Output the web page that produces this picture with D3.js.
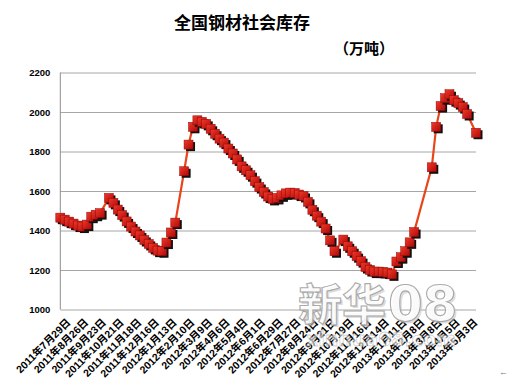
<!DOCTYPE html>
<html><head><meta charset="utf-8">
<script src="https://cdn.jsdelivr.net/npm/d3@7"></script>
<style>body{margin:0;background:#fff}svg{display:block}</style>
</head><body>
<svg id="chart" width="508" height="382"></svg>
<script>
// ---- data ----
const dates = [
"2011-07-29","2011-08-05","2011-08-12","2011-08-19","2011-08-26","2011-09-02","2011-09-09","2011-09-16","2011-09-23","2011-09-30",
"2011-10-07","2011-10-14","2011-10-21","2011-10-28","2011-11-04","2011-11-11","2011-11-18","2011-11-25","2011-12-02","2011-12-09",
"2011-12-16","2011-12-23","2011-12-30","2012-01-06","2012-01-13","2012-01-20","2012-01-27","2012-02-03","2012-02-10","2012-02-17",
"2012-02-24","2012-03-02","2012-03-09","2012-03-16","2012-03-23","2012-03-30","2012-04-06","2012-04-13","2012-04-20","2012-04-27",
"2012-05-04","2012-05-11","2012-05-18","2012-05-25","2012-06-01","2012-06-08","2012-06-15","2012-06-22","2012-06-29","2012-07-06",
"2012-07-13","2012-07-20","2012-07-27","2012-08-03","2012-08-10","2012-08-17","2012-08-24","2012-08-31","2012-09-07","2012-09-14",
"2012-09-21","2012-09-28","2012-10-05","2012-10-12","2012-10-19","2012-10-26","2012-11-02","2012-11-09","2012-11-16","2012-11-23",
"2012-11-30","2012-12-07","2012-12-14","2012-12-21","2012-12-28","2013-01-04","2013-01-11","2013-01-18","2013-01-25","2013-02-01",
"2013-02-08","2013-02-15","2013-02-22","2013-03-01","2013-03-08","2013-03-15","2013-03-22","2013-03-29","2013-04-05","2013-04-12",
"2013-04-19","2013-04-26","2013-05-03","2013-05-10","2013-05-17"
];
const inventory = [
1465,1455,1445,1435,1425,1420,1430,1470,1480,1488,
null,1565,1540,1506,1478,1446,1420,1395,1375,1352,
1332,1312,1298,1295,1339,1390,1440,null,1700,1835,
1925,1958,1950,1940,1915,1890,1865,1845,1815,1790,
1760,1725,1705,1680,1650,1620,1595,1572,1560,1565,
1578,1588,1592,1590,1582,1575,1545,1505,1475,1445,
1410,1350,1295,null,1354,1320,1295,1270,1245,1215,
1200,1192,1192,1190,1187,1178,1243,1265,1295,1340,
1392,null,null,null,1720,1925,2030,2070,2090,2060,
2045,2025,1990,null,1895
];
const yTicks = [1000,1200,1400,1600,1800,2000,2200];
const xTickLabels = [
"2011年7月29日","2011年8月26日","2011年9月23日","2011年10月21日","2011年11月18日","2011年12月16日",
"2012年1月13日","2012年2月10日","2012年3月9日","2012年4月6日","2012年5月4日","2012年6月1日",
"2012年6月29日","2012年7月27日","2012年8月24日","2012年9月21日","2012年10月19日","2012年11月16日",
"2012年12月14日","2013年1月11日","2013年2月8日","2013年3月8日","2013年4月5日","2013年5月3日"
];
const xTickDates = ["2011-07-29","2011-08-26","2011-09-23","2011-10-21","2011-11-18","2011-12-16",
"2012-01-13","2012-02-10","2012-03-09","2012-04-06","2012-05-04","2012-06-01",
"2012-06-29","2012-07-27","2012-08-24","2012-09-21","2012-10-19","2012-11-16",
"2012-12-14","2013-01-11","2013-02-08","2013-03-08","2013-04-05","2013-05-03"];
const title = "全国钢材社会库存";
const unit = "（万吨）";

// ---- drawing ----
const svg = d3.select("#chart");
const parse = d3.timeParse("%Y-%m-%d");
const L = 60.3, R = 476, T = 72.5, B = 309.5;
const x = d3.scaleTime().domain([parse(dates[0]), parse(dates[dates.length-1])]).range([L, R]);
const y = d3.scaleLinear().domain([1000, 2200]).range([B, T]);
const CJK = "'Noto Sans CJK SC','Noto Sans',sans-serif";
const LAT = "'Liberation Sans','Noto Sans CJK SC',sans-serif";

const defs = svg.append("defs");
const g = defs.append("linearGradient").attr("id","mk").attr("x1",0).attr("y1",0).attr("x2",1).attr("y2",1);
g.append("stop").attr("offset","0%").attr("stop-color","#ee3a2a");
g.append("stop").attr("offset","100%").attr("stop-color","#b00808");

// title
svg.append("text").attr("x",242).attr("y",29).attr("text-anchor","middle")
  .style("font-family",CJK).style("font-weight","bold").style("font-size","17px").attr("fill","#000").text(title);
svg.append("text").attr("x",334).attr("y",54)
  .style("font-family",CJK).style("font-weight","bold").style("font-size","15px").attr("fill","#000").text(unit);

// y axis with grid
const yAxis = svg.append("g").attr("transform",`translate(${L},0)`)
  .call(d3.axisLeft(y).tickValues(yTicks).tickSize(-(R-L)).tickPadding(10).tickFormat(d3.format("d")));
yAxis.select(".domain").remove();
yAxis.selectAll(".tick line").attr("stroke","#a6a6a6").attr("stroke-width",1);
yAxis.selectAll(".tick text").style("font-family",LAT).style("font-weight","bold").style("font-size","9.5px").attr("fill","#000");
svg.append("line").attr("x1",L).attr("x2",L).attr("y1",T).attr("y2",B).attr("stroke","#8c8c8c");

// x labels
const xl = svg.append("g");
xTickDates.forEach((d,i)=>{
  const tx = x(parse(d));
  xl.append("text").attr("transform",`translate(${tx+11},${323}) rotate(-45)`)
    .attr("text-anchor","end").style("font-family",LAT).style("font-weight","bold").style("font-size","10.5px")
    .attr("fill","#000").text(xTickLabels[i]);
});
svg.append("text").attr("x",499).attr("y",375).style("font-family",LAT).style("font-size","9px").attr("fill","#777").text("←");

// series
const pts = dates.map((d,i)=>({d:parse(d), v:inventory[i]})).filter(p=>p.v!=null);
svg.append("path").datum(pts)
  .attr("d", d3.line().x(p=>x(p.d)).y(p=>y(p.v)))
  .attr("fill","none").attr("stroke","#e8451a").attr("stroke-width",2.2);

const mk = svg.append("g");
const S = 9;
pts.forEach(p=>{
  const cx = x(p.d), cy = y(p.v);
  mk.append("rect").attr("x",cx-S/2+2).attr("y",cy-S/2+2).attr("width",S).attr("height",S).attr("fill","#111");
  mk.append("rect").attr("x",cx-S/2).attr("y",cy-S/2).attr("width",S).attr("height",S)
    .attr("fill","url(#mk)").attr("stroke","#9a0606").attr("stroke-width",0.5);
});

// watermark (on top, semi-transparent)
const wm1 = svg.append("g");
function wmText(dx, dy, fill, stroke, sw, op){
  const t = wm1.append("text").attr("x",298+dx).attr("y",321+dy)
    .style("font-family",CJK).style("font-weight","bold").style("font-size","44px")
    .attr("fill",fill).attr("stroke",stroke).attr("stroke-width",sw).attr("opacity",op);
  t.append("tspan").text("新华");
  t.append("tspan").style("font-family","'DejaVu Sans',sans-serif").style("font-weight","bold")
    .style("font-size","50px").attr("dx",2).text("08");
}
wmText(2, 2, "#c8c8c8", "none", 0, 0.6);
wmText(0, 0, "#ffffff", "#a0a0a0", 1.1, 0.88);
svg.append("text").attr("x",306).attr("y",346)
  .style("font-family","'DejaVu Sans',sans-serif").style("font-weight","bold").style("font-size","19px").attr("fill","#ffffff")
  .attr("stroke","#b8b8b8").attr("stroke-width",0.8).attr("opacity",0.6).text("xinhua08.com");
</script>
</body></html>
